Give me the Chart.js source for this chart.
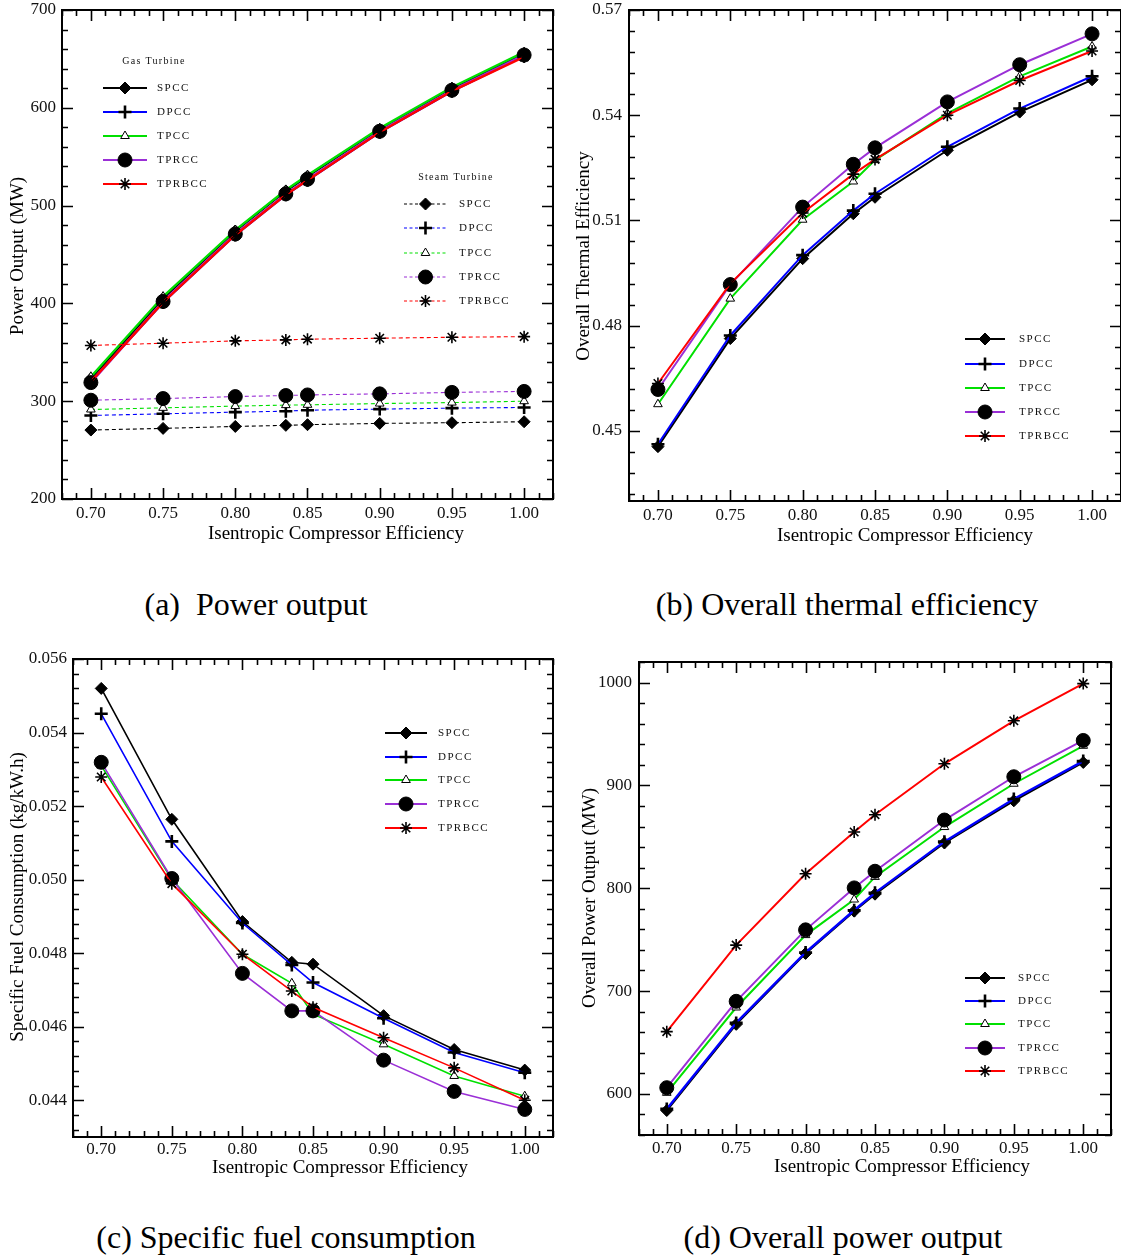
<!DOCTYPE html>
<html>
<head>
<meta charset="utf-8">
<title>Compressor efficiency study</title>
<script src="https://cdn.jsdelivr.net/npm/chart.js@4.4.1/dist/chart.umd.min.js"></script>
<style>
  body { margin: 0; background: #fff; }
  #page { position: relative; width: 1121px; height: 1255px; overflow: hidden; background: #fff; }
  #page canvas { position: absolute; }
  .cap {
    position: absolute;
    font-family: 'Liberation Serif', 'Times New Roman', serif;
    font-size: 32px;
    color: #000;
    white-space: pre;
    line-height: 1;
    transform: translate(-50%, -50%);
  }
</style>
</head>
<body>
<div id="page">
  <canvas id="chartA" width="600" height="560" style="left:0px;top:0px"></canvas>
  <canvas id="chartB" width="600" height="560" style="left:560px;top:0px"></canvas>
  <canvas id="chartC" width="600" height="560" style="left:0px;top:640px"></canvas>
  <canvas id="chartD" width="600" height="560" style="left:560px;top:640px"></canvas>
  <div class="cap" style="left:256px;top:604px">(a)  Power output</div>
  <div class="cap" style="left:847px;top:604px">(b) Overall thermal efficiency</div>
  <div class="cap" style="left:286px;top:1237px">(c) Specific fuel consumption</div>
  <div class="cap" style="left:843px;top:1237px">(d) Overall power output</div>
</div>
<script>
// isentropic compressor efficiency (x values shared by every panel)
const effX = [0.70, 0.75, 0.80, 0.835, 0.85, 0.90, 0.95, 1.00];
const cycles = ['SPCC', 'DPCC', 'TPCC', 'TPRCC', 'TPRBCC'];

// (a) gas turbine power output, MW
const gasSPCC   = [323, 405, 474, 515, 530, 578, 620, 655];
const gasDPCC   = [320, 401, 470, 511, 526, 575, 617, 653];
const gasTPCC   = [325, 407, 475, 516, 531, 579, 621, 657];
const gasTPRCC  = [319, 402, 471, 512, 527, 576, 618, 654];
const gasTPRBCC = [320, 401, 470, 511, 526, 575, 617, 652];

// (a) steam turbine power output, MW
const stSPCC   = [270.5, 272.2, 274.2, 275.3, 276.0, 277.3, 278.0, 279.0];
const stDPCC   = [285.4, 287.1, 288.8, 289.8, 290.8, 291.9, 292.9, 293.6];
const stTPCC   = [291.5, 293.2, 295.0, 296.0, 296.3, 297.6, 298.6, 300.0];
const stTPRCC  = [301.0, 302.7, 304.7, 305.8, 306.4, 307.5, 309.0, 310.0];
const stTPRBCC = [357.0, 359.3, 361.7, 362.7, 363.4, 364.4, 365.4, 366.0];

// (b) overall thermal efficiency
const effSPCC   = [0.4455, 0.4763, 0.4991, 0.5119, 0.5166, 0.5300, 0.5409, 0.5501];
const effDPCC   = [0.4462, 0.4772, 0.5001, 0.5128, 0.5176, 0.5310, 0.5419, 0.5511];
const effTPCC   = [0.4576, 0.4877, 0.5102, 0.5211, 0.5272, 0.5405, 0.5511, 0.5596];
const effTPRCC  = [0.4618, 0.4917, 0.5138, 0.5260, 0.5307, 0.5438, 0.5544, 0.5632];
const effTPRBCC = [0.4635, 0.4920, 0.5121, 0.5232, 0.5274, 0.5400, 0.5499, 0.5583];

// (c) specific fuel consumption, kg/kW.h
const sfcSPCC   = [0.05520, 0.05164, 0.04886, 0.04775, 0.04770, 0.04630, 0.04538, 0.04482];
const sfcDPCC   = [0.05451, 0.05104, 0.04882, 0.04768, 0.04720, 0.04623, 0.04530, 0.04475];
const sfcTPCC   = [0.05310, 0.05000, 0.04797, 0.04718, 0.04634, 0.04552, 0.04466, 0.04411];
const sfcTPRCC  = [0.05319, 0.05003, 0.04745, 0.04643, 0.04643, 0.04509, 0.04424, 0.04375];
const sfcTPRBCC = [0.05279, 0.04989, 0.04797, 0.04697, 0.04653, 0.04570, 0.04488, 0.04400];

// (d) overall power output, MW
const totSPCC   = [583.8, 667.6, 736.6, 777.7, 794.2, 844.0, 885.0, 922.3];
const totDPCC   = [585.4, 669.0, 737.5, 778.6, 795.5, 845.3, 886.7, 923.6];
const totTPCC   = [601.0, 684.0, 754.4, 789.0, 811.0, 859.5, 901.6, 938.5];
const totTPRCC  = [606.0, 690.0, 759.5, 800.3, 816.5, 866.3, 908.4, 943.7];
const totTPRBCC = [660.5, 744.7, 814.0, 854.7, 871.5, 921.0, 962.8, 999.0];

// tick labels
const xTicks  = [0.70, 0.75, 0.80, 0.85, 0.90, 0.95, 1.00];
const yTicksA = [200, 300, 400, 500, 600, 700];
const yTicksB = [0.45, 0.48, 0.51, 0.54, 0.57];
const yTicksC = [0.044, 0.046, 0.048, 0.050, 0.052, 0.054, 0.056];
const yTicksD = [600, 700, 800, 900, 1000];

const SERIF = "'Liberation Serif', 'Times New Roman', serif";

const look = {
    SPCC:   { color: '#000000', point: 'rectRot',  r: 6,   fill: '#000', bw: 1 },
    DPCC:   { color: '#0000ff', point: 'cross',    r: 6.5, fill: '#000', bw: 2.6 },
    TPCC:   { color: '#00e000', point: 'triangle', r: 5,   fill: '#fff', bw: 1 },
    TPRCC:  { color: '#9a2fd6', point: 'circle',   r: 7,   fill: '#000', bw: 1 },
    TPRBCC: { color: '#ff0000', point: 'star',     r: 6,   fill: '#000', bw: 1.6 }
};

function series(name, values, lineWidth, dash) {
    const s = look[name];
    return {
        label: name,
        data: effX.map((x, i) => ({ x: x, y: values[i] })),
        borderColor: s.color,
        borderWidth: lineWidth,
        borderDash: dash || [],
        pointStyle: s.point,
        pointRadius: s.r,
        pointBackgroundColor: s.fill,
        pointBorderColor: '#000',
        pointBorderWidth: s.bw,
        pointHoverRadius: s.r,
        tension: 0,
        fill: false
    };
}

// panel layout in page pixels
const panels = {
    chartA: { ox: 0, oy: 0, area: [62, 10, 553, 499], xPad: 4, yPad: 6,
              xTitle: [336, 534], yTitle: [18, 256], minor: 20,
              xText: 'Isentropic Compressor Efficiency', yText: 'Power Output (MW)' },
    chartB: { ox: 560, oy: 0, area: [629, 10, 1121, 501], xPad: 4, yPad: 7,
              xTitle: [905, 536], yTitle: [584, 256], minor: 0.006,
              xText: 'Isentropic Compressor Efficiency', yText: 'Overall Thermal Efficiency' },
    chartC: { ox: 0, oy: 640, area: [73, 659, 553, 1137], xPad: 2, yPad: 6,
              xTitle: [340, 1168], yTitle: [18, 897], minor: 0.0004,
              xText: 'Isentropic Compressor Efficiency', yText: 'Specific Fuel Consumption (kg/kW.h)' },
    chartD: { ox: 560, oy: 640, area: [639, 662, 1111, 1135], xPad: 3, yPad: 7,
              xTitle: [902, 1167], yTitle: [590, 898], minor: 20,
              xText: 'Isentropic Compressor Efficiency', yText: 'Overall Power Output (MW)' }
};

// legend boxes in page pixels
const legends = {
    chartA: [
        { title: 'Gas Turbine', tx: 154, ty: 61, x0: 103, x1: 147, label: 157, ys: [88, 112, 136, 160, 184], dash: false },
        { title: 'Steam Turbine', tx: 456, ty: 177, x0: 404, x1: 447, label: 459, ys: [204, 228, 253, 277, 301], dash: true }
    ],
    chartB: [{ x0: 965, x1: 1005, label: 1019, ys: [339, 364, 388, 412, 436], dash: false }],
    chartC: [{ x0: 385, x1: 427, label: 438, ys: [733, 757, 780, 804, 828], dash: false }],
    chartD: [{ x0: 965, x1: 1005, label: 1018, ys: [978, 1001, 1024, 1048, 1071], dash: false }]
};

function marker(ctx, name, x, y) {
    const s = look[name];
    ctx.save();
    ctx.fillStyle = s.fill;
    ctx.strokeStyle = '#000';
    ctx.lineWidth = s.bw;
    if (Chart.helpers && Chart.helpers.drawPoint) {
        Chart.helpers.drawPoint(ctx, { pointStyle: s.point, radius: s.r, rotation: 0, borderWidth: s.bw }, x, y);
    }
    ctx.restore();
}

const framePlugin = {
    id: 'frame',
    afterDraw(chart) {
        const p = panels[chart.canvas.id];
        const ctx = chart.ctx;
        const a = chart.chartArea;
        const xs = chart.scales.x, ys = chart.scales.y;
        ctx.save();
        ctx.strokeStyle = '#000';
        ctx.lineWidth = 1.6;
        ctx.beginPath();
        // inward ticks along bottom and top
        for (let k = Math.ceil(xs.min / 0.01 - 1e-6); k <= Math.floor(xs.max / 0.01 + 1e-6); k++) {
            const px = Math.round(xs.getPixelForValue(k * 0.01)) + 0.5;
            const len = k % 5 === 0 ? 11 : 6;
            ctx.moveTo(px, a.bottom); ctx.lineTo(px, a.bottom - len);
            ctx.moveTo(px, a.top); ctx.lineTo(px, a.top + len);
        }
        // inward ticks along left and right
        for (let k = Math.ceil(ys.min / p.minor - 1e-6); k <= Math.floor(ys.max / p.minor + 1e-6); k++) {
            const py = Math.round(ys.getPixelForValue(k * p.minor)) + 0.5;
            const len = k % 5 === 0 ? 11 : 6;
            ctx.moveTo(a.left, py); ctx.lineTo(a.left + len, py);
            ctx.moveTo(a.right, py); ctx.lineTo(a.right - len, py);
        }
        ctx.stroke();
        ctx.lineWidth = 2;
        ctx.strokeRect(a.left, a.top, a.right - a.left, a.bottom - a.top);

        // axis titles
        ctx.fillStyle = '#000';
        ctx.font = '19px ' + SERIF;
        ctx.textAlign = 'center';
        ctx.textBaseline = 'middle';
        ctx.fillText(p.xText, p.xTitle[0] - p.ox, p.xTitle[1] - p.oy);
        ctx.translate(p.yTitle[0] - p.ox, p.yTitle[1] - p.oy);
        ctx.rotate(-Math.PI / 2);
        ctx.fillText(p.yText, 0, 0);
        ctx.restore();

        // legends
        legends[chart.canvas.id].forEach(g => {
            ctx.save();
            ctx.fillStyle = '#111';
            ctx.textBaseline = 'middle';
            if (g.title) {
                ctx.font = '10px ' + SERIF;
                ctx.letterSpacing = '1.3px';
                ctx.textAlign = 'center';
                ctx.fillText(g.title, g.tx - p.ox, g.ty - p.oy);
            }
            ctx.font = '11px ' + SERIF;
            ctx.letterSpacing = '1.5px';
            ctx.textAlign = 'left';
            cycles.forEach((name, i) => {
                const y = g.ys[i] - p.oy;
                ctx.save();
                ctx.strokeStyle = look[name].color;
                ctx.lineWidth = g.dash ? 1.2 : 2.2;
                ctx.setLineDash(g.dash ? [3, 2.5] : []);
                ctx.beginPath();
                ctx.moveTo(g.x0 - p.ox, y);
                ctx.lineTo(g.x1 - p.ox, y);
                ctx.stroke();
                ctx.restore();
                marker(ctx, name, (g.x0 + g.x1) / 2 - p.ox, y);
                ctx.fillText(name, g.label - p.ox, y);
            });
            ctx.restore();
        });
    }
};

function makeChart(id, datasets, yMin, yMax, yTicks, yDigits) {
    const p = panels[id];
    const canvas = document.getElementById(id);
    const a = p.area;
    const padTop = a[1] - p.oy;
    const padRight = p.ox + canvas.width - a[2];
    const yWidth = a[0] - p.ox;
    const xHeight = p.oy + canvas.height - a[3];
    // later series are painted on top, as in the reference
    datasets.forEach((d, i) => { d.order = datasets.length - i; });
    return new Chart(canvas.getContext('2d'), {
        type: 'line',
        data: { datasets: datasets },
        options: {
            responsive: false,
            animation: false,
            events: [],
            layout: { padding: { top: padTop, right: padRight, left: 0, bottom: 0 } },
            scales: {
                x: {
                    type: 'linear',
                    min: 0.68,
                    max: 1.02,
                    grid: { display: false, drawTicks: false },
                    border: { display: false },
                    afterBuildTicks: (s) => { s.ticks = xTicks.map(v => ({ value: v })); },
                    afterFit: (s) => { s.height = xHeight; s.paddingLeft = 0; s.paddingRight = 0; },
                    ticks: {
                        padding: p.xPad,
                        color: '#111',
                        autoSkip: false,
                        maxRotation: 0,
                        font: { family: SERIF, size: 17 },
                        callback: (v) => Number(v).toFixed(2)
                    }
                },
                y: {
                    type: 'linear',
                    min: yMin,
                    max: yMax,
                    grid: { display: false, drawTicks: false },
                    border: { display: false },
                    afterBuildTicks: (s) => { s.ticks = yTicks.map(v => ({ value: v })); },
                    afterFit: (s) => { s.width = yWidth; s.paddingTop = 0; s.paddingBottom = 0; },
                    ticks: {
                        padding: p.yPad,
                        color: '#111',
                        autoSkip: false,
                        font: { family: SERIF, size: 17 },
                        callback: (v) => Number(v).toFixed(yDigits)
                    }
                }
            },
            plugins: {
                legend: { display: false },
                tooltip: { enabled: false }
            }
        },
        plugins: [framePlugin]
    });
}

const dashA = [4, 3];
makeChart('chartA', [
    series('SPCC', gasSPCC, 2.4),
    series('DPCC', gasDPCC, 2.4),
    series('TPCC', gasTPCC, 2.4),
    series('TPRCC', gasTPRCC, 2.4),
    series('TPRBCC', gasTPRBCC, 2.4),
    series('SPCC', stSPCC, 1.1, dashA),
    series('DPCC', stDPCC, 1.1, dashA),
    series('TPCC', stTPCC, 1.1, dashA),
    series('TPRCC', stTPRCC, 1.1, dashA),
    series('TPRBCC', stTPRBCC, 1.1, dashA)
], 200, 700, yTicksA, 0);

makeChart('chartB', [
    series('SPCC', effSPCC, 2),
    series('DPCC', effDPCC, 2),
    series('TPCC', effTPCC, 2),
    series('TPRCC', effTPRCC, 2),
    series('TPRBCC', effTPRBCC, 2)
], 0.43, 0.57, yTicksB, 2);

makeChart('chartC', [
    series('SPCC', sfcSPCC, 1.6),
    series('DPCC', sfcDPCC, 1.6),
    series('TPCC', sfcTPCC, 1.6),
    series('TPRCC', sfcTPRCC, 1.6),
    series('TPRBCC', sfcTPRBCC, 1.6)
], 0.043, 0.056, yTicksC, 3);

makeChart('chartD', [
    series('SPCC', totSPCC, 2),
    series('DPCC', totDPCC, 2.4),
    series('TPCC', totTPCC, 2),
    series('TPRCC', totTPRCC, 2),
    series('TPRBCC', totTPRBCC, 2)
], 560, 1020, yTicksD, 0);
</script>
</body>
</html>
